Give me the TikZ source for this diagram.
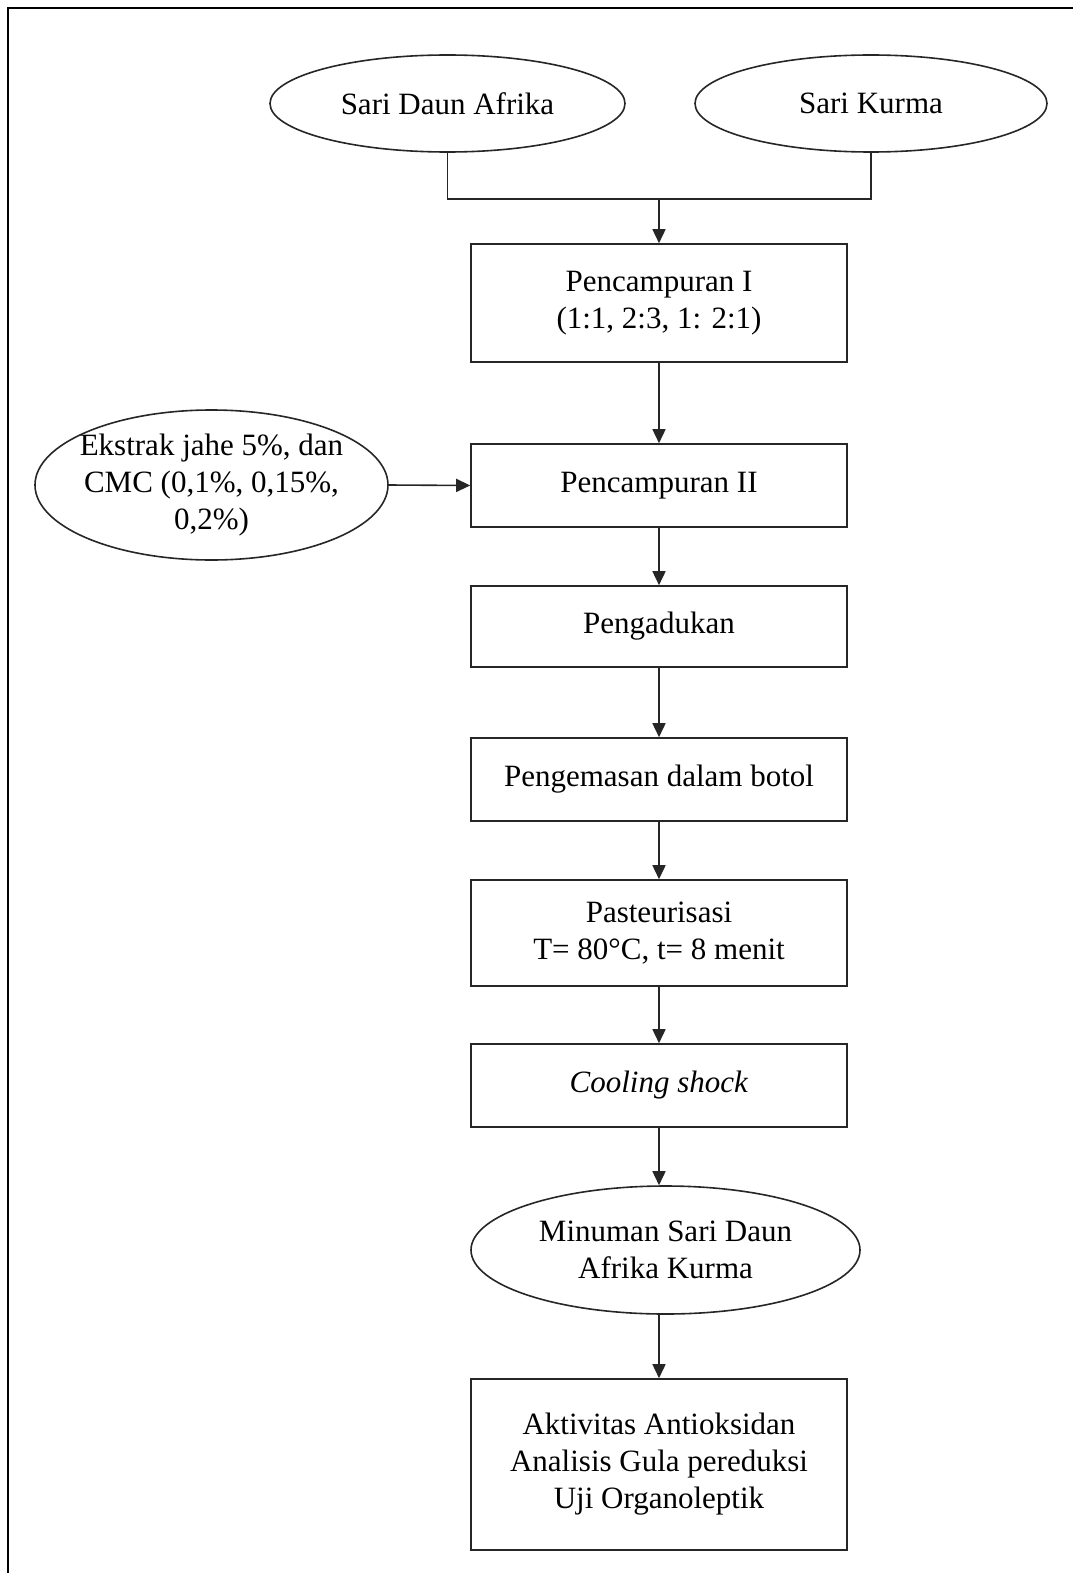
\documentclass[tikz,border=0pt]{standalone}
\usepackage{fontspec}
\setmainfont{Liberation Serif}
\usetikzlibrary{shapes.geometric,arrows.meta}

\begin{document}
\begin{tikzpicture}[
  x=1pt, y=-1pt,
  every node/.style={font=\fontsize{31}{37}\selectfont, text=black},
  line/.style={draw=black!85, line width=1.6pt},
  stepbox/.style={line, rectangle, minimum width=376pt, inner sep=0pt, align=center},
  oval/.style={line, ellipse, inner sep=-300pt, align=center},
  arr/.style={line, -{Triangle[length=14pt,width=13pt]}},
]
\useasboundingbox (0,0) rectangle (1073,1573);

% frame (top and left edges)
\draw[line width=2.6pt, black] (8,1573) -- (8,8) -- (1073,8);

% raw materials
\node[oval, minimum width=355pt, minimum height=97pt] (sda) at (447.5,103.5) {Sari Daun Afrika};
\node[oval, minimum width=352pt, minimum height=97pt] (kurma) at (871,103.5) {Sari Kurma};

% process steps
\node[stepbox, minimum height=118pt] (p1) at (659,303) {Pencampuran I\\(1:1, 2:3, 1: 2:1)};
\node[stepbox, minimum height=83pt] (p2) at (659,485.5) {Pencampuran II};
\node[oval, minimum width=353pt, minimum height=150pt] (jahe) at (211.5,485) {Ekstrak jahe 5\%, dan\\CMC (0,1\%, 0,15\%,\\0,2\%)};
\node[stepbox, minimum height=81pt] (aduk) at (659,626.5) {Pengadukan};
\node[stepbox, minimum height=83pt] (kemas) at (659,779.5) {Pengemasan dalam botol};
\node[stepbox, minimum height=106pt] (pas) at (659,933) {Pasteurisasi\\T= 80°C, t= 8 menit};
\node[stepbox, minimum height=83pt] (cool) at (659,1085.5) {\textit{Cooling shock}};
\node[oval, minimum width=389pt, minimum height=128pt] (minum) at (665.5,1250) {Minuman Sari Daun\\Afrika Kurma};
\node[stepbox, minimum height=171pt] (uji) at (659,1464.5) {Aktivitas Antioksidan\\Analisis Gula pereduksi\\Uji Organoleptik};

% connectors
\coordinate (join) at (659,199);
\draw[line] (sda.south) |- (join) -| (kurma.south);
\draw[arr] (join) -- (p1.north);
\draw[arr] (p1.south) -- (p2.north);
\draw[arr] (jahe.east) -- (p2.west);
\draw[arr] (p2.south) -- (aduk.north);
\draw[arr] (aduk.south) -- (kemas.north);
\draw[arr] (kemas.south) -- (pas.north);
\draw[arr] (pas.south) -- (cool.north);
\draw[arr] (cool.south) -- (cool.south |- minum.north);
\draw[arr] (uji.north |- minum.south) -- (uji.north);
\end{tikzpicture}
\end{document}
